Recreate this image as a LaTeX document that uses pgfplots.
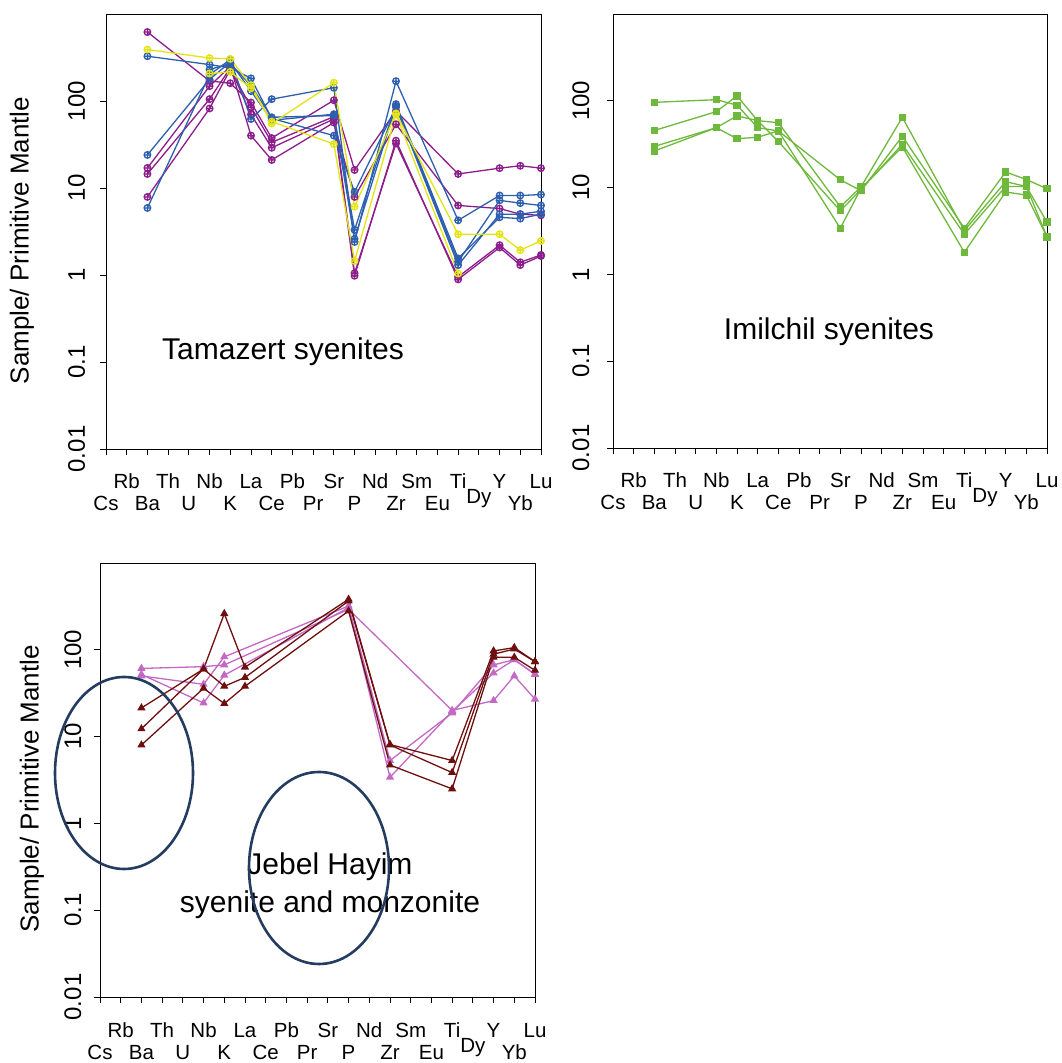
\documentclass[border=0pt]{standalone}
\usepackage{pgfplots}
\pgfplotsset{compat=1.18}
\usepackage{fontspec}
\setmainfont{Liberation Sans}
\definecolor{pur}{RGB}{140,30,140}
\definecolor{blu}{RGB}{45,95,175}
\definecolor{yel}{RGB}{228,228,20}
\definecolor{grn}{RGB}{110,185,60}
\definecolor{dred}{RGB}{110,15,15}
\definecolor{pnk}{RGB}{195,105,195}
\definecolor{navy}{RGB}{35,60,95}
\newcommand\tsz{\fontsize{20.5}{24}\selectfont}
\newcommand\ysz{\fontsize{24}{28}\selectfont}
\newcommand\lsz{\fontsize{26}{30}\selectfont}
\newcommand\bsz{\fontsize{30}{36}\selectfont}
\newcommand\xlabs{%
 \node[font=\tsz,anchor=base,yshift=-62pt] at (axis cs:0,0.01) {Cs};
 \node[font=\tsz,anchor=base,yshift=-40pt] at (axis cs:1,0.01) {Rb};
 \node[font=\tsz,anchor=base,yshift=-62pt] at (axis cs:2,0.01) {Ba};
 \node[font=\tsz,anchor=base,yshift=-40pt] at (axis cs:3,0.01) {Th};
 \node[font=\tsz,anchor=base,yshift=-62pt] at (axis cs:4,0.01) {U};
 \node[font=\tsz,anchor=base,yshift=-40pt] at (axis cs:5,0.01) {Nb};
 \node[font=\tsz,anchor=base,yshift=-62pt] at (axis cs:6,0.01) {K};
 \node[font=\tsz,anchor=base,yshift=-40pt] at (axis cs:7,0.01) {La};
 \node[font=\tsz,anchor=base,yshift=-62pt] at (axis cs:8,0.01) {Ce};
 \node[font=\tsz,anchor=base,yshift=-40pt] at (axis cs:9,0.01) {Pb};
 \node[font=\tsz,anchor=base,yshift=-62pt] at (axis cs:10,0.01) {Pr};
 \node[font=\tsz,anchor=base,yshift=-40pt] at (axis cs:11,0.01) {Sr};
 \node[font=\tsz,anchor=base,yshift=-62pt] at (axis cs:12,0.01) {P};
 \node[font=\tsz,anchor=base,yshift=-40pt] at (axis cs:13,0.01) {Nd};
 \node[font=\tsz,anchor=base,yshift=-62pt] at (axis cs:14,0.01) {Zr};
 \node[font=\tsz,anchor=base,yshift=-40pt] at (axis cs:15,0.01) {Sm};
 \node[font=\tsz,anchor=base,yshift=-62pt] at (axis cs:16,0.01) {Eu};
 \node[font=\tsz,anchor=base,yshift=-40pt] at (axis cs:17,0.01) {Ti};
 \node[font=\tsz,anchor=base,yshift=-55pt] at (axis cs:18,0.01) {Dy};
 \node[font=\tsz,anchor=base,yshift=-40pt] at (axis cs:19,0.01) {Y};
 \node[font=\tsz,anchor=base,yshift=-62pt] at (axis cs:20,0.01) {Yb};
 \node[font=\tsz,anchor=base,yshift=-40pt] at (axis cs:21,0.01) {Lu};}
\newcommand\ylabs[1]{%
 \node[font=\ysz,xshift=-#1,rotate=90,anchor=base] at (axis cs:0,0.01) {0.01};
 \node[font=\ysz,xshift=-#1,rotate=90,anchor=base] at (axis cs:0,0.1) {0.1};
 \node[font=\ysz,xshift=-#1,rotate=90,anchor=base] at (axis cs:0,1) {1};
 \node[font=\ysz,xshift=-#1,rotate=90,anchor=base] at (axis cs:0,10) {10};
 \node[font=\ysz,xshift=-#1,rotate=90,anchor=base] at (axis cs:0,100) {100};}
\begin{document}
\begin{tikzpicture}[x=1pt,y=1pt]
\useasboundingbox (0,0) rectangle (1061,1063);
% ---------- Panel 1: Tamazert ----------
\begin{semilogyaxis}[scale only axis, width=435pt, height=435pt, at={(106pt,614pt)}, anchor=south west,
  xmin=0, xmax=21, ymin=0.01, ymax=1000,
  xtick={0,...,21}, ytick={0.01,0.1,1,10,100}, yminorticks=false,
  xticklabels={}, yticklabels={}, tick pos=left, tick align=outside,
  major tick length=6pt, axis line style={line width=0.8pt},
  tick style={black, line width=0.8pt}, clip=false]
\addplot[pur, line width=1.3pt, mark=oplus, mark size=3.3pt] coordinates {(2,620)(5,170)(6,160)(7,96)(8,37.5)(11,102)(12,16.1)(14,77)(17,14.5)(19,16.9)(20,18)(21,16.9)};
\addplot[pur, line width=1.3pt, mark=oplus, mark size=3.3pt] coordinates {(2,17)(5,148)(6,250)(7,40)(8,21)(11,56.5)(12,7.9)(14,54)(17,6.3)(19,5.8)(20,5.0)(21,4.85)};
\addplot[pur, line width=1.3pt, mark=oplus, mark size=3.3pt] coordinates {(2,14.5)(5,105)(6,240)(7,70)(8,29)(11,62)(12,0.98)(14,35)(17,0.89)(19,2.07)(20,1.3)(21,1.65)};
\addplot[pur, line width=1.3pt, mark=oplus, mark size=3.3pt] coordinates {(2,7.9)(5,82)(6,230)(7,85)(8,33.5)(11,66)(12,1.05)(14,32.5)(17,0.95)(19,2.2)(20,1.4)(21,1.7)};
\addplot[blu, line width=1.3pt, mark=oplus, mark size=3.3pt] coordinates {(2,327)(5,262)(6,240)(7,182)(8,63)(11,40)(12,9.0)(14,85)(17,1.3)(19,5.0)(20,5.0)(21,5.4)};
\addplot[blu, line width=1.3pt, mark=oplus, mark size=3.3pt] coordinates {(2,24)(5,177)(6,280)(7,130)(8,60)(11,70.5)(12,3.3)(14,92)(17,1.55)(19,4.6)(20,4.45)(21,5.0)};
\addplot[blu, line width=1.3pt, mark=oplus, mark size=3.3pt] coordinates {(2,5.9)(5,200)(6,300)(7,62)(8,105)(11,142)(12,2.4)(14,169)(17,4.25)(19,8.2)(20,8.2)(21,8.4)};
\addplot[blu, line width=1.3pt, mark=oplus, mark size=3.3pt] coordinates {(5,230)(6,270)(7,150)(8,65)(11,68)(12,2.6)(14,88)(17,1.42)(19,7.2)(20,6.7)(21,6.3)};
\addplot[yel, line width=1.3pt, mark=oplus, mark size=3.3pt] coordinates {(2,390)(5,312)(6,305)(7,152)(8,55)(11,162)(12,6.1)(14,72)(17,2.94)(19,2.94)(20,1.93)(21,2.47)};
\addplot[yel, line width=1.3pt, mark=oplus, mark size=3.3pt] coordinates {(5,207)(6,216)(7,140)(8,58)(11,32)(12,1.45)(14,70)(17,1.04)};
\xlabs
\ylabs{21pt}
\node[font=\lsz, xshift=-84pt, yshift=-9pt, rotate=90, anchor=center] at (rel axis cs:0,0.5) {Sample/ Primitive Mantle};
\end{semilogyaxis}
% ---------- Panel 2: Imilchil ----------
\begin{semilogyaxis}[scale only axis, width=434pt, height=434pt, at={(613pt,615pt)}, anchor=south west,
  xmin=0, xmax=21, ymin=0.01, ymax=1000,
  xtick={0,...,21}, ytick={0.01,0.1,1,10,100}, yminorticks=false,
  xticklabels={}, yticklabels={}, tick pos=left, tick align=outside,
  major tick length=6pt, axis line style={line width=0.8pt},
  tick style={black, line width=0.8pt}, clip=false]
\addplot[grn, line width=1.3pt, mark=square*, mark size=3pt] coordinates {(2,96)(5,103)(6,89)(7,49)(8,45)(11,12.3)(12,9.2)(14,39)(17,3.4)(19,15.1)(20,12.4)(21,9.7)};
\addplot[grn, line width=1.3pt, mark=square*, mark size=3pt] coordinates {(2,45.5)(5,75)(6,114)(7,59)(8,56)(11,6.0)(12,10.2)(14,64.5)(17,3.2)(19,11.7)(20,10.3)(21,4.0)};
\addplot[grn, line width=1.3pt, mark=square*, mark size=3pt] coordinates {(2,29.8)(5,49)(6,67)(7,59)(8,34)(11,5.4)(12,9.5)(14,31.5)(17,2.9)(19,10.3)(20,10.3)(21,2.7)};
\addplot[grn, line width=1.3pt, mark=square*, mark size=3pt] coordinates {(2,26.4)(5,49)(6,36.6)(7,38)(8,45)(11,3.4)(12,9.8)(14,29.4)(17,1.8)(19,8.9)(20,8.2)(21,2.7)};
\xlabs
\ylabs{24pt}
\end{semilogyaxis}
% ---------- Panel 3: Jebel Hayim ----------
\begin{semilogyaxis}[scale only axis, width=435pt, height=434pt, at={(100pt,66pt)}, anchor=south west,
  xmin=0, xmax=21, ymin=0.01, ymax=1000,
  xtick={0,...,21}, ytick={0.01,0.1,1,10,100}, yminorticks=false,
  xticklabels={}, yticklabels={}, tick pos=left, tick align=outside,
  major tick length=6pt, axis line style={line width=0.8pt},
  tick style={black, line width=0.8pt}, clip=false]
\addplot[pnk, line width=1.3pt, mark=triangle*, mark size=3.5pt] coordinates {(2,61)(5,64)(6,67)(12,293)(17,20)(19,26)(20,50)(21,27)};
\addplot[pnk, line width=1.3pt, mark=triangle*, mark size=3.5pt] coordinates {(2,50)(5,40)(6,83)(12,320)(14,5.3)(17,18.7)(19,67)(20,77)(21,52.5)};
\addplot[pnk, line width=1.3pt, mark=triangle*, mark size=3.5pt] coordinates {(2,52)(5,24.4)(6,51)(12,306)(14,3.4)(17,19.5)(19,54)(20,77)(21,52)};
\addplot[dred, line width=1.3pt, mark=triangle*, mark size=3.5pt] coordinates {(2,21.4)(5,60)(6,261)(7,63)(12,382)(14,8.1)(17,5.3)(19,97)(20,106)(21,73)};
\addplot[dred, line width=1.3pt, mark=triangle*, mark size=3.5pt] coordinates {(2,12.3)(5,60)(6,38)(7,48)(12,365)(14,8.0)(17,3.85)(19,89)(20,102)(21,73)};
\addplot[dred, line width=1.3pt, mark=triangle*, mark size=3.5pt] coordinates {(2,8.0)(5,36)(6,24)(7,38)(12,280)(14,4.7)(17,2.5)(19,82)(20,82)(21,58)};
\xlabs
\ylabs{19pt}
\node[font=\lsz, xshift=-68pt, yshift=-9pt, rotate=90, anchor=center] at (rel axis cs:0,0.5) {Sample/ Primitive Mantle};
\end{semilogyaxis}
% ---------- annotations ----------
\node[font=\bsz] at (283,711) {Tamazert syenites};
\node[font=\bsz] at (829,731) {Imilchil syenites};
\node[font=\bsz] at (330,196) {Jebel Hayim};
\node[font=\bsz] at (330,158) {syenite and monzonite};
\draw[navy, line width=2.6pt] (124,290) ellipse (69 and 96);
\draw[navy, line width=2.6pt] (319,195) ellipse (70 and 96);
\end{tikzpicture}
\end{document}
